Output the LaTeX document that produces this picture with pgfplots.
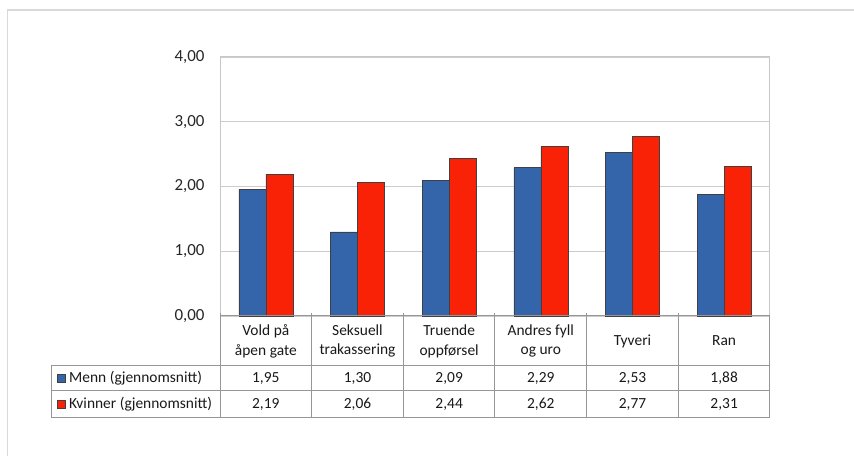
\documentclass[border=0pt]{standalone}
\usepackage{pgfplots}
\pgfplotsset{compat=1.18}
\usetikzlibrary{calc}
\usepackage{fontspec}
\setmainfont{Carlito}
\definecolor{menncol}{RGB}{52,100,170}
\definecolor{kvinncol}{RGB}{250,34,6}
\definecolor{framegray}{RGB}{217,217,217}
\definecolor{tablegray}{RGB}{150,150,150}
\tikzset{
  tbl/.style={font=\fontsize{15.5}{20}\selectfont, align=center, text=black!90, inner sep=0pt},
  tline/.style={draw=tablegray, line width=1bp},
}
\begin{document}
\begin{tikzpicture}
\path[use as bounding box] (0bp,0bp) rectangle (854bp,456bp);
\draw[framegray, line width=1.5bp] (7.5bp,0bp) -- (7.5bp,446bp) -- (854bp,446bp);
\begin{axis}[
  at={(220bp,140bp)}, anchor=south west,
  scale only axis, width=550bp, height=259bp,
  xmin=-0.5, xmax=5.5, ymin=0, ymax=4,
  ytick={0,1,2,3,4}, xtick=\empty,
  major tick length=0pt,
  ymajorgrids, grid style={draw=black!20, line width=0.8bp},
  axis line style={draw=black!22, line width=1bp},
  yticklabel style={font=\fontsize{17}{18}\selectfont, text=black!85, xshift=-12bp},
  /pgf/number format/.cd, fixed, fixed zerofill, precision=2, use comma, assume math mode=true,
  /pgfplots/.cd,
  ybar=0pt, bar width=27bp,
  clip=false,
]
\addplot[draw=black!75, line width=0.6bp, fill=menncol] coordinates {(0,1.95) (1,1.30) (2,2.09) (3,2.29) (4,2.53) (5,1.88)};
\addplot[draw=black!75, line width=0.6bp, fill=kvinncol] coordinates {(0,2.19) (1,2.06) (2,2.44) (3,2.62) (4,2.77) (5,2.31)};
% data table lines
\draw[tline] (axis cs:-0.5,0) -- (axis cs:5.5,0);
\draw[tline] (axis cs:-2.333,-0.757) -- (axis cs:5.5,-0.757);
\draw[tline] (axis cs:-2.333,-1.158) -- (axis cs:5.5,-1.158);
\draw[tline] (axis cs:-2.333,-1.575) -- (axis cs:5.5,-1.575);
\draw[tline] (axis cs:-2.333,-0.757) -- (axis cs:-2.333,-1.575);
\draw[tline] (axis cs:-0.5,0.05) -- (axis cs:-0.5,-1.575);
\draw[tline] (axis cs:0.5,0.05) -- (axis cs:0.5,-1.575);
\draw[tline] (axis cs:1.5,0.05) -- (axis cs:1.5,-1.575);
\draw[tline] (axis cs:2.5,0.05) -- (axis cs:2.5,-1.575);
\draw[tline] (axis cs:3.5,0.05) -- (axis cs:3.5,-1.575);
\draw[tline] (axis cs:4.5,0.05) -- (axis cs:4.5,-1.575);
\draw[tline] (axis cs:5.5,0) -- (axis cs:5.5,-1.575);
% category labels
\node[tbl] at (axis cs:0,-0.386) {Vold på\\åpen gate};
\node[tbl] at (axis cs:1,-0.386) {Seksuell\\trakassering};
\node[tbl] at (axis cs:2,-0.386) {Truende\\oppførsel};
\node[tbl] at (axis cs:3,-0.386) {Andres fyll\\og uro};
\node[tbl] at (axis cs:4,-0.386) {Tyveri};
\node[tbl] at (axis cs:5,-0.386) {Ran};
\node[tbl] at (axis cs:0,-0.9575) {1,95};
\node[tbl] at (axis cs:1,-0.9575) {1,30};
\node[tbl] at (axis cs:2,-0.9575) {2,09};
\node[tbl] at (axis cs:3,-0.9575) {2,29};
\node[tbl] at (axis cs:4,-0.9575) {2,53};
\node[tbl] at (axis cs:5,-0.9575) {1,88};
\node[tbl] at (axis cs:0,-1.359) {2,19};
\node[tbl] at (axis cs:1,-1.359) {2,06};
\node[tbl] at (axis cs:2,-1.359) {2,44};
\node[tbl] at (axis cs:3,-1.359) {2,62};
\node[tbl] at (axis cs:4,-1.359) {2,77};
\node[tbl] at (axis cs:5,-1.359) {2,31};
\node[tbl, anchor=west] at (axis cs:-2.147,-0.9575) {Menn (gjennomsnitt)};
\node[tbl, anchor=west] at (axis cs:-2.147,-1.359) {Kvinner (gjennomsnitt)};
\draw[draw=black!75, line width=0.5bp, fill=menncol] ($(axis cs:-2.28,-0.9575)+(0bp,-4bp)$) rectangle ++(8bp,8bp);
\draw[draw=black!75, line width=0.5bp, fill=kvinncol] ($(axis cs:-2.28,-1.359)+(0bp,-4bp)$) rectangle ++(8bp,8bp);
\end{axis}
\end{tikzpicture}
\end{document}
